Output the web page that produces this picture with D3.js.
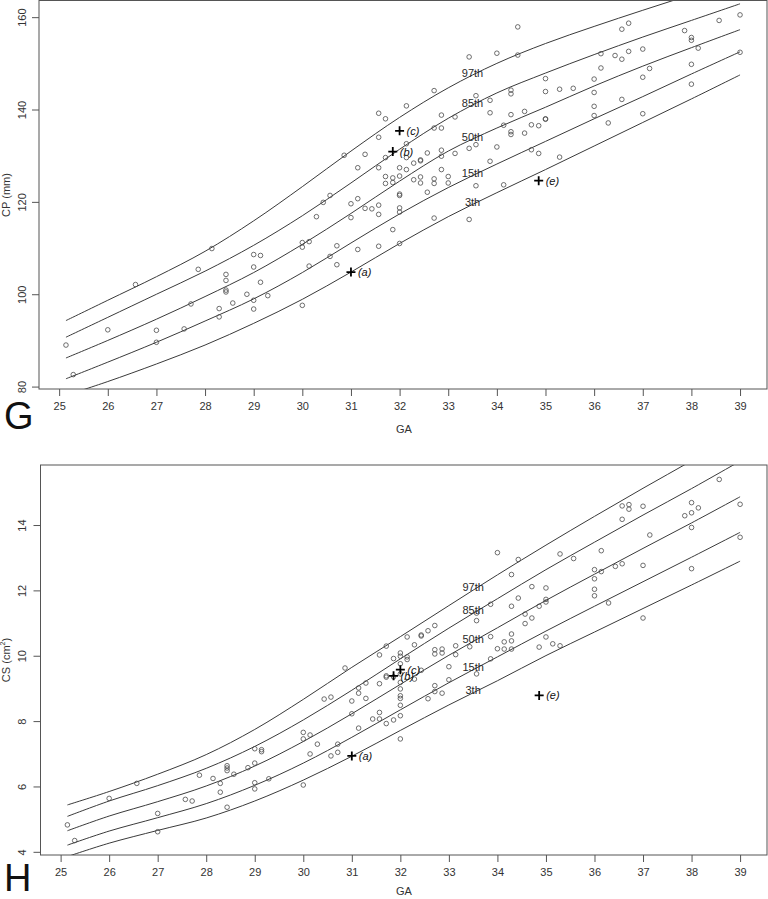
<!DOCTYPE html>
<html>
<head>
<meta charset="utf-8">
<script src="https://cdn.jsdelivr.net/npm/d3@7/dist/d3.min.js"></script>
<style>
body { margin: 0; background: #fff; }
svg { display: block; font-family: "Liberation Sans", Arial, sans-serif; }
</style>
</head>
<body>
<div id="chart"></div>
<script>
// gestational age grid for the centile curves
const gaGrid = [25.14, 26, 27, 28, 29, 30, 31, 32, 33, 34, 35, 36, 37, 38, 39];
const centileNames = ["97th", "85th", "50th", "15th", "3th"];
const xTicks = [25, 26, 27, 28, 29, 30, 31, 32, 33, 34, 35, 36, 37, 38, 39];

// CP (mm) centiles
const cp97 = [94.4, 98.8, 103.9, 109.4, 116.0, 123.4, 131.1, 138.4, 144.8, 150.1, 154.4, 158.1, 161.6, 165.0, 168.4];
const cp85 = [90.8, 95.1, 100.1, 105.1, 110.7, 117.1, 124.2, 131.5, 138.2, 143.7, 148.0, 152.0, 155.8, 159.4, 163.0];
const cp50 = [86.3, 90.1, 94.7, 99.6, 104.8, 110.9, 117.6, 124.6, 131.1, 136.1, 140.6, 145.2, 149.5, 153.5, 157.4];
const cp15 = [81.8, 85.4, 89.7, 94.3, 99.1, 104.8, 111.2, 117.5, 123.2, 128.3, 133.2, 138.1, 142.9, 147.8, 152.6];
const cp3 = [78.2, 81.2, 85.0, 89.1, 93.8, 99.0, 104.9, 111.1, 116.9, 122.1, 127.1, 132.2, 137.3, 142.4, 147.6];
const cpTicks = [80, 100, 120, 140, 160];

// CS (cm2) centiles
const cs97 = [5.45, 5.86, 6.39, 6.99, 7.76, 8.68, 9.66, 10.60, 11.55, 12.49, 13.40, 14.28, 15.14, 15.98, 16.85];
const cs85 = [5.10, 5.57, 6.04, 6.57, 7.24, 8.05, 8.96, 9.92, 10.86, 11.76, 12.65, 13.49, 14.32, 15.13, 15.97];
const cs50 = [4.66, 5.11, 5.55, 6.03, 6.64, 7.39, 8.24, 9.14, 10.03, 10.87, 11.71, 12.51, 13.30, 14.08, 14.88];
const cs15 = [4.22, 4.65, 5.06, 5.49, 6.05, 6.73, 7.52, 8.36, 9.19, 9.98, 10.77, 11.53, 12.28, 13.03, 13.79];
const cs3 = [3.87, 4.28, 4.67, 5.05, 5.57, 6.21, 6.94, 7.73, 8.51, 9.25, 10.02, 10.74, 11.46, 12.18, 12.91];
const csTicks = [4, 6, 8, 10, 12, 14];

// observed CP values
const cpObsGA = [25.14, 25.29, 26, 26.57, 27, 27, 27.57, 27.71, 27.86, 28.14, 28.29, 28.29, 28.43, 28.43, 28.43, 28.43, 28.57, 28.86,
  29, 29, 29, 29, 29.14, 29.14, 29.29, 30, 30, 30.14, 30, 30.14, 30.29, 30.43, 30.57, 30.57, 30.71, 30.71, 30.86, 31, 31,
  31.14, 31.14, 31.14, 31.29, 31.29, 31.43, 31.57, 31.57, 31.57, 31.57, 31.57, 31.57, 31.71, 31.71, 31.71, 31.71, 31.86, 31.86, 31.86,
  32, 32, 32, 32, 32, 32, 32, 32.14, 32.14, 32.14, 32.14, 32.29, 32.29, 32.43, 32.43, 32.43, 32.43, 32.57, 32.57,
  32.71, 32.71, 32.71, 32.71, 32.71, 32.86, 32.86, 32.86, 32.86, 32.86, 33, 33, 33.14, 33.14, 33.43, 33.43, 33.43,
  33.57, 33.57, 33.57, 33.86, 33.86, 33.86, 34, 34, 34.14, 34.14, 34.29, 34.29, 34.29, 34.29, 34.29, 34.43, 34.43,
  34.57, 34.57, 34.71, 34.71, 34.86, 34.86, 35, 35, 35, 35, 35.29, 35.29, 35.57, 36, 36, 36, 36, 36.14, 36.14, 36.29,
  36.43, 36.57, 36.57, 36.57, 36.71, 36.71, 37, 37, 37, 37.14, 37.86, 38, 38, 38, 38, 38.14, 38.57, 39, 39];
const cpObs = [89.1, 82.7, 92.4, 102.2, 92.3, 89.7, 92.6, 98.0, 105.5, 110.0, 97.0, 95.2, 104.4, 103.1, 101.0, 100.6, 98.2, 100.1,
  108.7, 106.0, 98.8, 96.9, 108.5, 102.7, 99.8, 111.3, 110.3, 111.5, 97.7, 106.2, 116.9, 120.0, 121.5, 108.3, 110.6, 106.5, 130.2, 119.7, 116.7,
  127.5, 120.8, 109.8, 130.4, 118.7, 118.6, 139.3, 134.1, 127.5, 119.4, 117.4, 110.5, 138.1, 129.7, 125.6, 124.1, 125.3, 124.3, 114.1,
  127.5, 125.7, 121.8, 121.5, 118.8, 117.9, 111.1, 140.9, 132.7, 129.7, 127.1, 128.5, 124.9, 129.2, 129.0, 125.5, 124.2, 130.7, 122.2,
  144.2, 136.1, 125.1, 124.1, 116.6, 138.9, 136.1, 131.3, 130.0, 127.1, 125.6, 124.2, 138.5, 130.6, 151.5, 131.7, 116.3,
  143.1, 132.5, 123.6, 142.1, 139.4, 128.9, 152.3, 132.0, 136.7, 123.8, 144.3, 143.5, 139.0, 135.3, 134.7, 158.0, 151.9,
  139.7, 135.0, 136.8, 131.4, 136.6, 130.6, 146.8, 144.0, 138.1, 138.0, 144.5, 129.8, 144.7, 146.7, 143.8, 140.8, 138.8, 152.2, 149.1, 137.2,
  151.8, 157.5, 151.0, 142.3, 158.8, 152.7, 153.2, 147.1, 139.2, 149.0, 157.2, 155.7, 155.1, 149.9, 145.6, 153.4, 159.4, 160.6, 152.5];

// observed CS values
const csObsGA = [25.14, 25.29, 26, 26.57, 27, 27, 27.57, 27.71, 27.86, 28.14, 28.29, 28.29, 28.43, 28.43, 28.43, 28.43, 28.57, 28.86,
  29, 29, 29, 29, 29.14, 29.14, 29.29, 30, 30, 30, 30.14, 30.14, 30.29, 30.43, 30.57, 30.57, 30.71, 30.71, 30.86, 31, 31,
  31.14, 31.14, 31.14, 31.29, 31.29, 31.43, 31.57, 31.57, 31.57, 31.57, 31.71, 31.71, 31.71, 31.71, 31.86, 31.86, 31.86,
  32, 32, 32, 32, 32, 32, 32, 32, 32, 32, 32, 32.14, 32.14, 32.14, 32.29, 32.29, 32.43, 32.43, 32.43, 32.57, 32.57,
  32.71, 32.71, 32.71, 32.71, 32.71, 32.86, 32.86, 32.86, 33, 33, 33.14, 33.14, 33.43, 33.57, 33.57, 33.57, 33.86, 33.86, 33.86,
  34, 34, 34.14, 34.14, 34.29, 34.29, 34.29, 34.29, 34.29, 34.43, 34.43, 34.57, 34.57, 34.71, 34.71, 34.86, 34.86,
  35, 35, 35, 35, 35.14, 35.29, 35.29, 35.57, 36, 36, 36, 36, 36.14, 36.14, 36.29, 36.43, 36.57, 36.57, 36.57, 36.71, 36.71,
  37, 37, 37, 37.14, 37.86, 38, 38, 38, 38, 38.14, 38.57, 39, 39];
const csObs = [4.84, 4.36, 5.65, 6.11, 5.19, 4.63, 5.62, 5.57, 6.36, 6.26, 6.11, 5.84, 6.65, 6.58, 6.50, 5.38, 6.39, 6.59,
  7.17, 6.73, 6.13, 5.94, 7.14, 7.08, 6.25, 7.67, 7.47, 6.06, 7.59, 7.01, 7.31, 8.69, 8.75, 6.95, 7.31, 7.06, 9.64, 8.63, 8.24,
  9.03, 8.87, 7.80, 9.18, 8.71, 8.08, 10.04, 9.16, 8.28, 8.08, 10.31, 9.40, 9.36, 7.94, 9.93, 9.37, 8.05,
  10.10, 10.00, 9.77, 9.46, 9.20, 9.00, 8.79, 8.71, 8.50, 8.18, 7.47, 10.59, 9.98, 9.90, 10.35, 9.30, 10.65, 10.62, 9.57, 10.78, 8.70,
  10.94, 10.20, 10.07, 9.10, 8.92, 10.22, 10.10, 8.87, 9.68, 9.28, 10.32, 10.05, 10.29, 11.32, 11.09, 9.46, 11.59, 10.60, 9.92,
  13.17, 10.23, 10.44, 10.22, 12.50, 11.53, 10.68, 10.47, 10.22, 12.96, 11.78, 11.29, 11.00, 12.13, 11.17, 11.53, 10.28,
  12.09, 11.74, 11.66, 10.59, 10.38, 13.13, 10.32, 12.99, 12.65, 12.37, 12.05, 11.85, 13.23, 12.59, 11.63, 12.75, 14.60, 14.19, 12.83, 14.64, 14.50,
  14.59, 12.78, 11.17, 13.71, 14.30, 14.70, 14.39, 13.94, 12.68, 14.54, 15.41, 14.65, 13.64];

// highlighted cases
const caseLabels = ["(a)", "(b)", "(c)", "(e)"];
const caseGA = [31, 31.86, 32, 34.86];
const cpCase = [104.9, 131.0, 135.5, 124.7];
const csCase = [6.95, 9.40, 9.59, 8.80];

const labelGA = 33.5;

const svg = d3.select('#chart')
    .append('svg')
    .attr('width', 768)
    .attr('height', 899);

// R style range: data range stretched by 4% on each side
function rRange(vals) {
    const ext = d3.extent(vals);
    const pad = (ext[1] - ext[0]) * 0.04;
    return [ext[0] - pad, ext[1] + pad];
}

function drawPanel(p) {
    const x = d3.scaleLinear()
        .domain(rRange(p.obsGA))
        .range([p.left, p.right]);
    const y = d3.scaleLinear()
        .domain(rRange(p.obs))
        .range([p.bottom, p.top]);

    const g = svg.append('g');

    g.append('clipPath')
        .attr('id', p.id + '-clip')
        .append('rect')
        .attr('x', p.left)
        .attr('y', p.top)
        .attr('width', p.right - p.left)
        .attr('height', p.bottom - p.top);

    // centile curves
    const line = d3.line()
        .x(function (d) { return x(d[0]); })
        .y(function (d) { return y(d[1]); })
        .curve(d3.curveCatmullRom.alpha(0.5));

    const curves = p.centiles.map(function (c) {
        return gaGrid.map(function (a, i) { return [a, c[i]]; });
    });

    g.append('g')
        .attr('clip-path', 'url(#' + p.id + '-clip)')
        .selectAll('path')
        .data(curves)
        .join('path')
        .attr('d', line)
        .attr('fill', 'none')
        .attr('stroke', '#3a3a3a')
        .attr('stroke-width', 1);

    // points
    g.append('g')
        .selectAll('circle')
        .data(p.obs)
        .join('circle')
        .attr('cx', function (d, i) { return x(p.obsGA[i]); })
        .attr('cy', function (d) { return y(d); })
        .attr('r', 2.3)
        .attr('fill', 'none')
        .attr('stroke', '#4a4a4a')
        .attr('stroke-width', 0.8);

    // centile labels, placed on the curve at labelGA
    const i0 = d3.bisectLeft(gaGrid, labelGA) - 1;
    const t = (labelGA - gaGrid[i0]) / (gaGrid[i0 + 1] - gaGrid[i0]);
    g.selectAll('text.centile')
        .data(p.centiles)
        .join('text')
        .attr('class', 'centile')
        .attr('x', x(labelGA))
        .attr('y', function (c) { return y(c[i0] + (c[i0 + 1] - c[i0]) * t) + 1; })
        .attr('text-anchor', 'middle')
        .attr('font-size', '11px')
        .attr('fill', '#2a2a2a')
        .text(function (c, i) { return centileNames[i]; });

    // case markers
    const cases = g.append('g')
        .selectAll('g')
        .data(p.cases)
        .join('g')
        .attr('transform', function (d, i) {
            return 'translate(' + x(caseGA[i]) + ',' + y(d) + ')';
        });
    cases.append('path')
        .attr('d', 'M-4.5,0H4.5M0,-4.5V4.5')
        .attr('stroke', '#000')
        .attr('stroke-width', 1.8);
    cases.append('text')
        .attr('x', 7)
        .attr('y', 4)
        .attr('font-size', '11px')
        .attr('font-style', 'italic')
        .attr('fill', '#111')
        .text(function (d, i) { return caseLabels[i]; });

    // box
    g.append('rect')
        .attr('x', p.left)
        .attr('y', p.top)
        .attr('width', p.right - p.left)
        .attr('height', p.bottom - p.top)
        .attr('fill', 'none')
        .attr('stroke', '#555')
        .attr('stroke-width', 1);

    // x axis
    const xAxis = g.append('g')
        .attr('transform', 'translate(0,' + p.bottom + ')')
        .call(d3.axisBottom(x).tickValues(xTicks).tickSize(7).tickSizeOuter(0).tickPadding(6));
    xAxis.select('.domain').remove();
    xAxis.selectAll('line').attr('stroke', '#555');
    xAxis.selectAll('text')
        .attr('font-size', '11px')
        .attr('font-family', '"Liberation Sans", Arial, sans-serif')
        .attr('fill', '#333');

    // y axis, labels parallel to the axis
    g.selectAll('line.ytick')
        .data(p.yTicks)
        .join('line')
        .attr('class', 'ytick')
        .attr('x1', p.left)
        .attr('x2', p.left - 7)
        .attr('y1', function (d) { return y(d); })
        .attr('y2', function (d) { return y(d); })
        .attr('stroke', '#555');
    g.selectAll('text.ylab')
        .data(p.yTicks)
        .join('text')
        .attr('class', 'ylab')
        .attr('transform', function (d) { return 'translate(26,' + y(d) + ') rotate(-90)'; })
        .attr('text-anchor', 'middle')
        .attr('font-size', '11px')
        .attr('fill', '#333')
        .text(function (d) { return d; });

    // axis titles
    g.append('text')
        .attr('x', 404)
        .attr('y', p.bottom + p.gaOffset)
        .attr('text-anchor', 'middle')
        .attr('font-size', '11px')
        .attr('fill', '#333')
        .text('GA');

    const yTitle = g.append('text')
        .attr('transform', 'translate(10,' + p.titleY + ') rotate(-90)')
        .attr('text-anchor', 'middle')
        .attr('font-size', '11px')
        .attr('fill', '#333');
    yTitle.append('tspan').text(p.yTitle);
    if (p.yUnitSup) {
        yTitle.append('tspan').text(p.yUnitSup[0]);
        yTitle.append('tspan').attr('font-size', '7px').attr('dy', '-5').text(p.yUnitSup[1]);
        yTitle.append('tspan').attr('dy', '5').text(p.yUnitSup[2]);
    }

    // panel letter
    g.append('text')
        .attr('x', 4)
        .attr('y', p.letterY)
        .attr('font-size', '38px')
        .attr('fill', '#111')
        .text(p.letter);
}

drawPanel({
    id: 'g', letter: 'G', letterY: 429,
    left: 39, right: 767, top: 0.5, bottom: 389,
    obsGA: cpObsGA, obs: cpObs, gaOffset: 44,
    centiles: [cp97, cp85, cp50, cp15, cp3],
    cases: cpCase, yTicks: cpTicks,
    yTitle: 'CP (mm)', titleY: 195
});

drawPanel({
    id: 'h', letter: 'H', letterY: 891,
    left: 40.5, right: 767, top: 465, bottom: 855,
    obsGA: csObsGA, obs: csObs, gaOffset: 40,
    centiles: [cs97, cs85, cs50, cs15, cs3],
    cases: csCase, yTicks: csTicks,
    yTitle: 'CS ', yUnitSup: ['(cm', '2', ')'], titleY: 660
});
</script>
</body>
</html>
